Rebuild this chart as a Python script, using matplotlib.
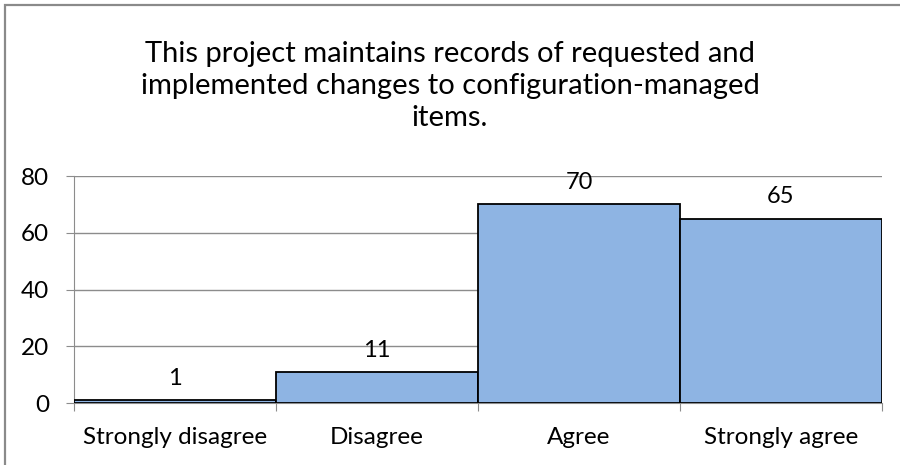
import matplotlib.pyplot as plt
from matplotlib.patches import Rectangle

# Survey answers and counts.
categories = ["Strongly disagree", "Disagree", "Agree", "Strongly agree"]
counts = [1, 11, 70, 65]
y_ticks = [0, 20, 40, 60, 80]
title = ("This project maintains records of requested and\n"
         "implemented changes to configuration-managed\nitems.")

plt.rcParams['font.family'] = ['Lato', 'DejaVu Sans']

fig = plt.figure(figsize=(9, 4.65), dpi=100)
ax = fig.add_axes([74 / 900, 1 - 403 / 465, (882 - 74) / 900, (403 - 176) / 465])

x = range(len(categories))
ax.bar(x, counts, width=1.0, color="#8EB4E3", edgecolor="black", linewidth=1.3, zorder=3)

# Value labels above each bar.
for xi, v in zip(x, counts):
    ax.annotate(str(v), (xi, v), xytext=(0, 8), textcoords="offset points",
                ha="center", va="bottom", fontsize=17, zorder=4)

ax.set_xlim(-0.5, len(categories) - 0.5)
ax.set_ylim(0, 80)
ax.set_yticks(y_ticks)
ax.yaxis.grid(True, color="#8c8c8c", linewidth=1, zorder=0)

# Category labels centred under bars, tick marks at the boundaries.
ax.set_xticks([i - 0.5 for i in range(len(categories) + 1)])
ax.set_xticklabels([])
ax.set_xticks(list(x), minor=True)
ax.set_xticklabels(categories, minor=True, fontsize=17.5)
ax.tick_params(axis="x", which="minor", length=0, pad=17)
ax.tick_params(axis="x", which="major", length=6, color="#8c8c8c", direction="out")
ax.tick_params(axis="y", length=6, color="#8c8c8c", labelsize=17.5, pad=12)

for side in ["top", "right"]:
    ax.spines[side].set_visible(False)
for side in ["left", "bottom"]:
    ax.spines[side].set_color("#8c8c8c")

fig.text(0.5, 1 - 86 / 465, title, ha="center", va="center", fontsize=21,
         linespacing=1.3)

# Chart frame (right and bottom edges fall outside the picture).
fig.patches.append(Rectangle((4.5 / 900, -0.1), 1.2, 1.1 - 5.5 / 465, fill=False,
                             edgecolor="#8a8a8a", linewidth=1.6,
                             transform=fig.transFigure))

fig.savefig("out.png", dpi=100)
